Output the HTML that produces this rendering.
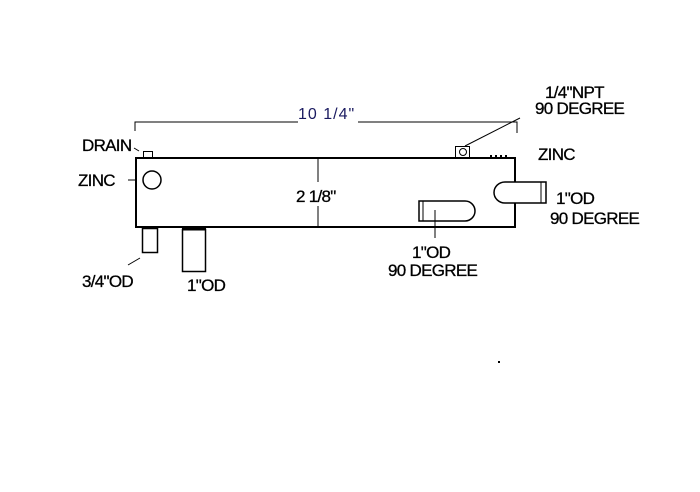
<!DOCTYPE html>
<html><head><style>
html,body{margin:0;padding:0;background:#fff;width:700px;height:492px;overflow:hidden}
svg text{font-family:"Liberation Sans",Arial,sans-serif;font-size:17px;fill:#000;letter-spacing:-0.7px;stroke:#000;stroke-width:0.3px}
</style></head><body>
<svg width="700" height="492" viewBox="0 0 700 492" xmlns="http://www.w3.org/2000/svg">
<g fill="none" stroke="#000" stroke-width="1">
<polyline points="135,131 135,122 298,122"/>
<polyline points="358,122 517,122 517,133"/>
<rect x="136" y="158" width="379" height="69" stroke-width="2"/>
<line x1="318" y1="158" x2="318" y2="182"/>
<line x1="318" y1="206" x2="318" y2="227"/>
<rect x="143.5" y="151.5" width="9" height="6"/>
<circle cx="152" cy="180" r="9" stroke-width="1.5"/>
<line x1="128" y1="180" x2="137" y2="180"/>
<line x1="134" y1="148" x2="139" y2="151"/>
<rect x="142.5" y="228.5" width="15" height="24" stroke-width="1.5"/>
<rect x="182.5" y="229.5" width="23" height="42" stroke-width="1.5"/>
<line x1="182" y1="229" x2="206" y2="229" stroke-width="3"/>
<line x1="128" y1="265" x2="140" y2="258"/>
<rect x="455.5" y="146.5" width="14" height="11"/>
<circle cx="463" cy="152" r="3.5"/>
<line x1="465" y1="146" x2="520" y2="118"/>
<path d="M505,182 L546,182 L546,203 L505,203 A11,10.5 0 0 1 505,182 Z" fill="#fff" stroke-width="1.5"/>
<line x1="541" y1="182" x2="541" y2="203"/>
<path d="M419,201 L465,201 A10,10 0 0 1 465,221 L419,221 Z" stroke-width="1.5"/>
<line x1="423" y1="201" x2="423" y2="221"/>
<line x1="435" y1="210" x2="435" y2="238"/>
</g>
<g fill="#000">
<rect x="490" y="155" width="2" height="2"/><rect x="495" y="155" width="2" height="2"/><rect x="500" y="155" width="2" height="2"/><rect x="505" y="155" width="2" height="2"/>
<rect x="498" y="361" width="2" height="2"/>
</g>
<text x="298" y="119" style="fill:#1a1a60;stroke:none;font-size:16px;letter-spacing:1px">10 1/4"</text>
<text x="82" y="151">DRAIN</text>
<text x="78" y="186">ZINC</text>
<text x="296" y="202">2 1/8"</text>
<text x="82" y="287">3/4"OD</text>
<text x="187" y="291">1"OD</text>
<text x="545" y="98">1/4"NPT</text>
<text x="535" y="114">90 DEGREE</text>
<text x="538" y="160">ZINC</text>
<text x="556" y="204">1"OD</text>
<text x="550" y="224">90 DEGREE</text>
<text x="412" y="258">1"OD</text>
<text x="388" y="276">90 DEGREE</text>
</svg>
</body></html>
